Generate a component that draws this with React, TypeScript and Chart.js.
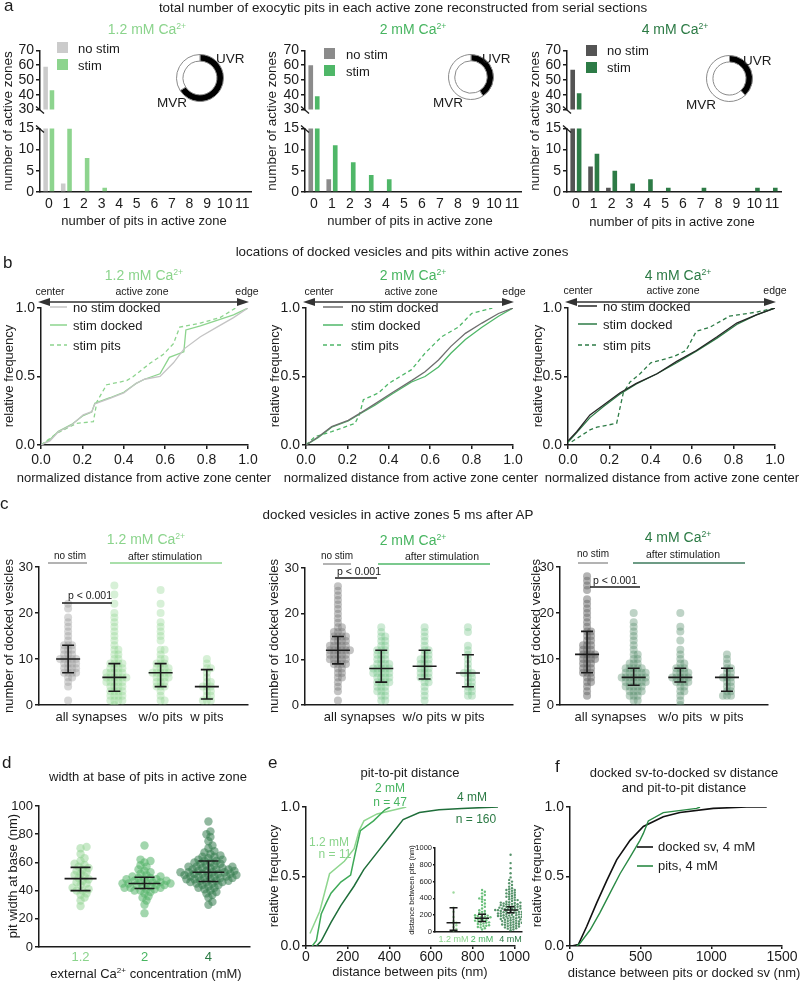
import React, { useEffect, useRef } from "react";
import { Chart, registerables } from "chart.js";

Chart.register(...registerables);

const FONT = '"Liberation Sans", Arial, Helvetica, sans-serif';
const INK = "#1b1b1b";
const G12 = "#8dd48e";
const G2 = "#4fb768";
const G4 = "#2d7b46";
const T12 = "#8bd48c";
const T2 = "#47b560";
const T4 = "#2b7a44";
const GR12 = "#cbcbcb";
const GR2 = "#8b8b8b";
const GR4 = "#545454";

// ================= DATA =================
// panel a: number of pits per active zone
const pitCounts = ["0", "1", "2", "3", "4", "5", "6", "7", "8", "9", "10", "11"];
const a12NoStim = [59, 2, 0, 0, 0, 0, 0, 0, 0, 0, 0, 0];
const a12Stim = [43, 15, 8, 1, 0, 0, 0, 0, 0, 0, 0, 0];
const a2NoStim = [60, 3, 0, 0, 0, 0, 0, 0, 0, 0, 0, 0];
const a2Stim = [39, 11, 7, 4, 3, 0, 0, 0, 0, 0, 0, 0];
const a4NoStim = [57, 6, 1, 0, 0, 0, 0, 0, 0, 0, 0, 0];
const a4Stim = [41, 9, 5, 2, 3, 1, 0, 1, 0, 0, 1, 1];
const uvrShare = [0.66, 0.41, 0.38];

// panel b: cumulative locations [normalized distance, relative frequency]
const b12NoStim = [[0, 0], [0.043, 0.03], [0.084, 0.097], [0.148, 0.146], [0.204, 0.22], [0.245, 0.243], [0.26, 0.3], [0.333, 0.34], [0.4, 0.38], [0.46, 0.45], [0.5, 0.48], [0.575, 0.5], [0.64, 0.6], [0.69, 0.7], [0.77, 0.79], [0.85, 0.86], [0.93, 0.93], [1, 1]];
const b12StimDocked = [[0, 0], [0.04, 0.035], [0.084, 0.1], [0.148, 0.15], [0.204, 0.215], [0.245, 0.24], [0.26, 0.305], [0.333, 0.345], [0.4, 0.385], [0.46, 0.45], [0.5, 0.48], [0.575, 0.52], [0.62, 0.64], [0.69, 0.68], [0.7, 0.84], [0.77, 0.87], [0.85, 0.91], [0.93, 0.95], [1, 1]];
const b12StimPits = [[0, 0], [0.076, 0.085], [0.172, 0.158], [0.253, 0.17], [0.27, 0.316], [0.317, 0.44], [0.414, 0.47], [0.446, 0.5], [0.53, 0.6], [0.59, 0.66], [0.64, 0.74], [0.67, 0.86], [0.77, 0.89], [0.865, 0.93], [0.94, 1.0]];
const b2NoStim = [[0, 0], [0.06, 0.06], [0.124, 0.134], [0.204, 0.18], [0.27, 0.24], [0.333, 0.3], [0.414, 0.38], [0.51, 0.47], [0.575, 0.535], [0.64, 0.62], [0.7, 0.72], [0.77, 0.815], [0.85, 0.89], [0.93, 0.96], [1, 1]];
const b2StimDocked = [[0, 0], [0.06, 0.055], [0.124, 0.13], [0.204, 0.175], [0.27, 0.235], [0.333, 0.29], [0.414, 0.37], [0.51, 0.46], [0.575, 0.5], [0.64, 0.57], [0.7, 0.67], [0.77, 0.77], [0.85, 0.86], [0.93, 0.94], [1, 1]];
const b2StimPits = [[0, 0], [0.043, 0.06], [0.124, 0.097], [0.237, 0.158], [0.26, 0.23], [0.277, 0.33], [0.35, 0.38], [0.4, 0.45], [0.51, 0.55], [0.575, 0.67], [0.655, 0.79], [0.736, 0.86], [0.8, 0.96], [0.9, 1.0]];
const b4NoStim = [[0, 0.03], [0.042, 0.097], [0.106, 0.22], [0.17, 0.29], [0.25, 0.38], [0.33, 0.45], [0.43, 0.52], [0.525, 0.61], [0.62, 0.69], [0.72, 0.79], [0.815, 0.89], [0.91, 0.95], [1, 1]];
const b4StimDocked = [[0, 0.02], [0.042, 0.09], [0.106, 0.2], [0.17, 0.28], [0.25, 0.37], [0.33, 0.445], [0.43, 0.52], [0.525, 0.6], [0.62, 0.685], [0.72, 0.78], [0.815, 0.88], [0.91, 0.95], [1, 1]];
const b4StimPits = [[0.018, 0.024], [0.106, 0.11], [0.14, 0.13], [0.235, 0.158], [0.267, 0.38], [0.3, 0.46], [0.348, 0.52], [0.4, 0.6], [0.51, 0.645], [0.57, 0.69], [0.62, 0.83], [0.686, 0.86], [0.78, 0.94], [0.91, 0.97], [1, 1]];

// panel c: docked vesicles per active zone
const cGroupLabels = ["all synapses", "w/o pits", "w pits"];
const c12NoStim = [1, 4, 5, 6, 6, 7, 7, 7, 7, 8, 8, 8, 8, 9, 9, 9, 9, 10, 10, 10, 10, 10, 11, 11, 11, 12, 12, 12, 13, 13, 13, 14, 15, 16, 17, 18, 19, 21, 22];
const c12All = [0, 1, 1, 1, 1, 2, 2, 2, 2, 3, 3, 3, 3, 4, 4, 4, 4, 5, 5, 5, 5, 5, 6, 6, 6, 6, 6, 6, 7, 7, 7, 7, 7, 8, 8, 8, 8, 9, 9, 9, 9, 10, 10, 11, 11, 12, 12, 13, 14, 15, 16, 17, 18, 19, 20, 22, 24, 26];
const c12WoPits = [1, 1, 2, 3, 4, 4, 4, 5, 5, 5, 6, 6, 6, 6, 7, 7, 7, 7, 7, 8, 8, 8, 8, 9, 9, 9, 10, 10, 11, 12, 12, 14, 15, 16, 17, 18, 20, 22, 25];
const c12WPits = [1, 1, 1, 2, 2, 3, 3, 4, 4, 4, 5, 5, 6, 7, 8, 8, 9, 10];
const c12Mid = [10, 6, 7, 4];
const c12Lo = [7, 3, 4, 1.3];
const c12Hi = [13, 9, 9, 7.7];
const c2NoStim = [1, 3, 4, 5, 6, 6, 7, 7, 8, 8, 9, 9, 9, 9, 10, 10, 10, 10, 10, 11, 11, 11, 11, 11, 12, 12, 12, 12, 12, 12, 13, 13, 13, 13, 13, 14, 14, 14, 14, 15, 15, 15, 15, 16, 16, 16, 17, 17, 18, 19, 20, 21, 22, 23, 24, 25, 26];
const c2All = [1, 1, 2, 2, 3, 3, 3, 4, 4, 4, 5, 5, 5, 5, 6, 6, 6, 6, 7, 7, 7, 7, 7, 8, 8, 8, 8, 8, 9, 9, 9, 9, 10, 10, 10, 11, 11, 11, 12, 12, 12, 13, 13, 14, 14, 15, 15, 16, 17];
const c2WoPits = [1, 2, 3, 4, 5, 5, 6, 6, 6, 7, 7, 7, 8, 8, 8, 9, 9, 9, 10, 10, 10, 11, 11, 12, 12, 13, 14, 15, 16, 17];
const c2WPits = [2, 2, 3, 3, 4, 4, 5, 5, 6, 6, 7, 7, 7, 8, 9, 10, 11, 12, 13, 16, 17];
const c2Mid = [12, 8, 8.5, 7];
const c2Lo = [9, 5, 5.7, 4];
const c2Hi = [15, 12, 12, 11];
const c4NoStim = [2, 3, 4, 5, 5, 6, 6, 7, 7, 7, 8, 8, 8, 9, 9, 9, 10, 10, 10, 10, 11, 11, 11, 11, 12, 12, 12, 13, 13, 13, 14, 14, 15, 15, 16, 16, 17, 18, 19, 20, 21, 22, 23, 25, 26, 27, 28];
const c4All = [1, 1, 2, 2, 2, 3, 3, 3, 3, 4, 4, 4, 4, 4, 5, 5, 5, 5, 5, 5, 6, 6, 6, 6, 6, 6, 6, 7, 7, 7, 7, 7, 7, 8, 8, 8, 8, 8, 9, 9, 9, 10, 10, 11, 11, 12, 13, 14, 15, 16, 17, 18, 20];
const c4WoPits = [0, 1, 2, 3, 3, 4, 4, 5, 5, 5, 5, 6, 6, 6, 6, 6, 7, 7, 7, 7, 8, 8, 8, 9, 9, 10, 11, 12, 14, 16, 17, 20];
const c4WPits = [2, 2, 2, 3, 3, 4, 4, 5, 5, 6, 6, 6, 7, 7, 8, 8, 9, 10, 11];
const c4Mid = [11, 6, 6, 6];
const c4Lo = [7, 4.3, 5, 3];
const c4Hi = [16, 8, 8, 8];

// panel d: pit width at base (nm)
const dConc = ["1.2", "2", "4"];
const pw12 = [29, 33, 35, 37, 38, 40, 40, 41, 42, 44, 45, 46, 47, 48, 49, 50, 51, 52, 53, 54, 55, 56, 57, 58, 59, 61, 63, 66, 70, 71];
const pw2 = [24, 30, 33, 35, 36, 38, 39, 40, 40, 41, 41, 42, 42, 42, 43, 43, 44, 44, 44, 45, 45, 45, 45, 46, 46, 46, 47, 47, 48, 48, 48, 49, 49, 50, 50, 51, 52, 53, 54, 55, 57, 58, 60, 61, 62, 72];
const pw4 = [30, 32, 35, 37, 38, 39, 40, 41, 42, 42, 43, 44, 44, 45, 45, 46, 46, 46, 47, 47, 47, 48, 48, 48, 49, 49, 49, 50, 50, 50, 50, 51, 51, 51, 52, 52, 52, 52, 53, 53, 53, 53, 54, 54, 54, 55, 55, 55, 56, 56, 56, 57, 57, 57, 58, 58, 59, 59, 60, 60, 61, 61, 62, 62, 63, 64, 64, 65, 66, 67, 68, 70, 72, 75, 78, 80, 82, 89];
const dMid = [48.5, 45, 53];
const dLo = [40, 41.5, 46.5];
const dHi = [56.5, 49.5, 61];

// panel e: pit-to-pit distance CDF [nm, relative frequency]
const e12 = [[19, 0.09], [66, 0.25], [113, 0.52], [184, 0.61], [231, 0.7], [255, 0.83], [278, 0.9], [341, 0.95], [481, 1.0]];
const e2 = [[30, 0], [50, 0.04], [73, 0.23], [97, 0.31], [120, 0.38], [167, 0.46], [214, 0.51], [238, 0.68], [261, 0.83], [324, 0.9], [379, 0.98], [403, 1.0]];
const e4 = [[50, 0], [73, 0.035], [120, 0.17], [167, 0.29], [230, 0.43], [277, 0.55], [340, 0.67], [403, 0.79], [466, 0.91], [544, 0.96], [638, 0.98], [748, 0.99], [921, 1.0]];
// inset e: distances (nm)
const insetLabels = ["1.2 mM", "2 mM", "4 mM"];
const in12 = [20, 35, 60, 80, 100, 110, 130, 180, 240, 290, 470];
const in2 = [30, 45, 55, 60, 70, 75, 80, 90, 95, 100, 110, 115, 120, 125, 130, 135, 140, 150, 155, 160, 165, 170, 175, 180, 185, 190, 195, 200, 210, 220, 230, 240, 250, 260, 280, 300, 320, 340, 360, 380, 390, 400, 420, 440, 460, 480, 500];
const in4 = [20, 30, 40, 45, 50, 55, 60, 65, 70, 75, 80, 85, 90, 90, 95, 100, 105, 110, 110, 115, 120, 125, 130, 130, 135, 140, 145, 150, 150, 155, 160, 165, 170, 170, 175, 180, 180, 185, 190, 190, 195, 200, 200, 205, 210, 210, 215, 220, 220, 225, 230, 230, 235, 240, 240, 245, 250, 250, 255, 260, 260, 262, 265, 270, 270, 275, 280, 280, 285, 290, 290, 295, 300, 300, 305, 310, 310, 315, 320, 320, 325, 330, 330, 335, 340, 345, 350, 350, 355, 360, 370, 380, 380, 390, 400, 410, 420, 420, 430, 440, 450, 460, 460, 470, 480, 490, 500, 500, 510, 520, 540, 560, 580, 600, 620, 650, 700, 760, 820, 920];
const inMid = [110, 165, 262];
const inLo = [20, 125, 230];
const inHi = [290, 210, 300];

// panel f: CDFs [nm, relative frequency]
const fDocked = [[12, 0], [59, 0.01], [118, 0.14], [189, 0.31], [260, 0.47], [330, 0.62], [425, 0.76], [519, 0.86], [660, 0.93], [778, 0.96], [1014, 0.99], [1250, 1.0], [1392, 1.0]];
const fPits = [[47, 0], [71, 0.02], [142, 0.115], [212, 0.24], [283, 0.38], [354, 0.52], [425, 0.64], [495, 0.76], [519, 0.81], [554, 0.9], [660, 0.96], [896, 0.99], [920, 1.0]];

// ================= HELPERS =================
type Box = { l: number; t: number; w: number; h: number };
type Area = { x0: number; y0: number; x1: number; y1: number };

function frame(box: Box, area: Area, xShown = true) {
  const xH = box.t + box.h - area.y1;
  return {
    area,
    padding: { left: 0, top: area.y0 - box.t, right: box.l + box.w - area.x1, bottom: xShown ? 0 : xH },
    fitX: (s: any) => { s.height = xH; },
    fitY: (s: any) => { s.width = area.x0 - box.l; },
  };
}

function base(f: any) {
  return {
    animation: false,
    responsive: false,
    events: [],
    layout: { padding: f.padding },
    plugins: { legend: { display: false }, tooltip: { enabled: false } },
  };
}

function linScale(o: any) {
  const tl = o.tickLen ?? 4;
  const s: any = {
    type: "linear",
    min: o.min,
    max: o.max,
    border: { display: true, color: INK, width: 1.5 },
    grid: { display: tl > 0, drawOnChartArea: false, drawTicks: tl > 0, tickLength: tl, color: INK, lineWidth: 1.5 },
    ticks: {
      font: { family: FONT, size: o.size ?? 14 },
      color: o.colors ? (ctx: any) => o.colors[ctx.index] ?? INK : INK,
      padding: o.pad ?? 2,
      autoSkip: false,
      maxRotation: 0,
    },
  };
  if (o.fit) s.afterFit = o.fit;
  if (o.step !== undefined) s.ticks.stepSize = o.step;
  if (o.at) s.afterBuildTicks = (sc: any) => { sc.ticks = o.at.map((v: number) => ({ value: v })); };
  if (o.labels) s.ticks.callback = (_v: any, i: number) => o.labels[i];
  else s.ticks.callback = (v: any) => (o.fmt ? o.fmt(Number(v)) : String(Number(v)));
  return s;
}

function swarm(values: number[], xc: number, pxX: number, pxY: number, dmin: number, step: number) {
  const placed: { x: number; y: number }[] = [];
  const pts: { x: number; y: number }[] = [];
  const sorted = [...values].sort((a, b) => a - b);
  sorted.forEach((v) => {
    const yp = v * pxY;
    let off = 0;
    for (let i = 0; i < 400; i++) {
      const cand = i === 0 ? 0 : (i % 2 ? 1 : -1) * Math.ceil(i / 2) * step;
      let ok = true;
      for (const p of placed) {
        const dy = p.y - yp;
        if (Math.abs(dy) < dmin) {
          const dx = p.x - cand;
          if (dx * dx + dy * dy < dmin * dmin) { ok = false; break; }
        }
      }
      if (ok) { off = cand; break; }
    }
    placed.push({ x: off, y: yp });
    pts.push({ x: xc + off / pxX, y: v });
  });
  return pts;
}

function errBars(xs: number[], mid: number[], lo: number[], hi: number[], half: number, whisk: number, lw = 1.6) {
  return {
    id: "errBars",
    afterDatasetsDraw(chart: any) {
      const { ctx, scales } = chart;
      const sx = scales.x, sy = scales.y;
      ctx.save();
      ctx.strokeStyle = INK;
      ctx.lineWidth = lw;
      ctx.beginPath();
      xs.forEach((xv, i) => {
        const cx = sx.getPixelForValue(xv);
        const ym = sy.getPixelForValue(mid[i]);
        const yl = sy.getPixelForValue(lo[i]);
        const yh = sy.getPixelForValue(hi[i]);
        ctx.moveTo(cx - half, ym); ctx.lineTo(cx + half, ym);
        ctx.moveTo(cx - whisk, yl); ctx.lineTo(cx + whisk, yl);
        ctx.moveTo(cx - whisk, yh); ctx.lineTo(cx + whisk, yh);
        ctx.moveTo(cx, yl); ctx.lineTo(cx, yh);
      });
      ctx.stroke();
      ctx.restore();
    },
  };
}

function breakPlugin(where: string) {
  return {
    id: "axisBreak",
    afterDraw(chart: any) {
      const { ctx, chartArea } = chart;
      const y = where === "bottom" ? chartArea.bottom : chartArea.top;
      const x = chartArea.left;
      ctx.save();
      ctx.strokeStyle = INK;
      ctx.lineWidth = 1.3;
      ctx.beginPath();
      ctx.moveTo(x - 4, y - 3);
      ctx.lineTo(x + 4, y + 4);
      ctx.stroke();
      ctx.restore();
    },
  };
}

const arrowPlugin = {
  id: "azArrow",
  afterDraw(chart: any) {
    const { ctx, chartArea } = chart;
    const y = chartArea.top - 6;
    const x0 = chartArea.left - 3;
    const x1 = chartArea.right + 1;
    ctx.save();
    ctx.strokeStyle = "#333";
    ctx.fillStyle = "#333";
    ctx.lineWidth = 1.6;
    ctx.beginPath();
    ctx.moveTo(x0 + 8, y);
    ctx.lineTo(x1 - 8, y);
    ctx.stroke();
    ctx.beginPath();
    ctx.moveTo(x0, y); ctx.lineTo(x0 + 12, y - 4); ctx.lineTo(x0 + 12, y + 4); ctx.closePath();
    ctx.moveTo(x1, y); ctx.lineTo(x1 - 12, y - 4); ctx.lineTo(x1 - 12, y + 4); ctx.closePath();
    ctx.fill();
    ctx.restore();
  },
};

function lineDs(pts: number[][], color: string, dashed = false, width = 1.3) {
  return {
    data: pts.map(([x, y]) => ({ x, y })),
    showLine: true,
    pointRadius: 0,
    borderColor: color,
    borderWidth: width,
    borderDash: dashed ? [4, 3] : [],
    tension: 0,
    fill: false,
  };
}

function dotDs(pts: any[], color: string, r: number) {
  return { data: pts, pointRadius: r, pointBackgroundColor: color, pointBorderWidth: 0, backgroundColor: color, borderWidth: 0, showLine: false };
}

// ================= SPECS =================
type Spec = { box: Box; make: () => any };
const SPECS: Spec[] = [];

// ---- panel a ----
const A_COLS = [
  { l: 0, x0: 40, x1: 251, noStim: a12NoStim, stim: a12Stim, cN: GR12, cS: G12 },
  { l: 265, x0: 305, x1: 521, noStim: a2NoStim, stim: a2Stim, cN: GR2, cS: G2 },
  { l: 527, x0: 567, x1: 781, noStim: a4NoStim, stim: a4Stim, cN: GR4, cS: G4 },
];
function barCfg(c: any, f: any, upper: boolean) {
  const ds = (label: string, data: number[], color: string) => ({
    label, data, backgroundColor: color, borderWidth: 0, categoryPercentage: 0.72, barPercentage: 0.72, clip: 0,
  });
  return {
    type: "bar",
    data: { labels: pitCounts, datasets: [ds("no stim", c.noStim, c.cN), ds("stim", c.stim, c.cS)] },
    options: {
      ...base(f),
      scales: {
        x: upper
          ? { display: false, offset: true }
          : {
              offset: true,
              grid: { display: false, drawTicks: false },
              border: { display: true, color: INK, width: 1.5 },
              ticks: { font: { family: FONT, size: 14 }, color: INK, padding: 4, autoSkip: false, maxRotation: 0 },
              afterFit: f.fitX,
            },
        y: linScale({ min: upper ? 30 : 0, max: upper ? 70 : 15, step: upper ? 10 : 5, fit: f.fitY }),
      },
    },
    plugins: [breakPlugin(upper ? "bottom" : "top")],
  };
}
A_COLS.forEach((c) => {
  const w = c.x1 + 14 - c.l;
  const up: Box = { l: c.l, t: 40, w, h: 80 };
  SPECS.push({ box: up, make: () => barCfg(c, frame(up, { x0: c.x0, y0: 50, x1: c.x1, y1: 114 }, false), true) });
  const lo: Box = { l: c.l, t: 118, w, h: 100 };
  SPECS.push({ box: lo, make: () => barCfg(c, frame(lo, { x0: c.x0, y0: 127, x1: c.x1, y1: 192 }), false) });
});

// donut icons (UVR share)
const DONUTS = [
  { cx: 200, cy: 78, r: 23, f: uvrShare[0] },
  { cx: 471, cy: 77, r: 22, f: uvrShare[1] },
  { cx: 729, cy: 78, r: 22.5, f: uvrShare[2] },
];
DONUTS.forEach((d) => {
  const s = Math.round(2 * d.r + 2);
  const box: Box = { l: Math.round(d.cx - s / 2), t: Math.round(d.cy - s / 2), w: s, h: s };
  SPECS.push({
    box,
    make: () => ({
      type: "doughnut",
      data: { labels: ["UVR", "MVR"], datasets: [{ data: [d.f, 1 - d.f], backgroundColor: ["#000", "#fff"], borderColor: "#8a8a8a", borderWidth: 1 }] },
      options: { animation: false, responsive: false, events: [], cutout: "72%", plugins: { legend: { display: false }, tooltip: { enabled: false } } },
    }),
  });
});

// ---- panel b ----
const B_COLS = [
  { l: 0, x0: 41, x1: 248, curves: [[b12NoStim, "#c4c4c4", false], [b12StimDocked, G12, false], [b12StimPits, G12, true]] },
  { l: 265, x0: 306, x1: 513, curves: [[b2NoStim, "#6e6e6e", false], [b2StimDocked, G2, false], [b2StimPits, G2, true]] },
  { l: 530, x0: 568, x1: 775, curves: [[b4NoStim, "#262626", false], [b4StimDocked, G4, false], [b4StimPits, G4, true]] },
];
B_COLS.forEach((c) => {
  const box: Box = { l: c.l, t: 285, w: 262, h: 185 };
  SPECS.push({
    box,
    make: () => {
      const f = frame(box, { x0: c.x0, y0: 308, x1: c.x1, y1: 445 });
      return {
        type: "scatter",
        data: { datasets: c.curves.map((cv: any) => lineDs(cv[0], cv[1], cv[2])) },
        options: {
          ...base(f),
          scales: {
            x: linScale({ min: 0, max: 1, step: 0.2, fmt: (v: number) => v.toFixed(1), pad: 3, fit: f.fitX }),
            y: linScale({ min: 0, max: 1, at: [0, 0.5, 1], fmt: (v: number) => v.toFixed(1), fit: f.fitY }),
          },
        },
        plugins: [arrowPlugin],
      };
    },
  });
});

// ---- panel c ----
const C_COLS = [
  { l: 0, x0: 39, x1: 248, y0: 567, xmin: -0.63, xmax: 3.89, groups: [c12NoStim, c12All, c12WoPits, c12WPits], cN: "rgba(160,160,160,0.42)", cS: "rgba(150,215,150,0.38)", mid: c12Mid, lo: c12Lo, hi: c12Hi },
  { l: 265, x0: 305, x1: 513, y0: 568, xmin: -0.76, xmax: 4.04, groups: [c2NoStim, c2All, c2WoPits, c2WPits], cN: "rgba(125,125,125,0.45)", cS: "rgba(125,200,145,0.38)", mid: c2Mid, lo: c2Lo, hi: c2Hi },
  { l: 527, x0: 560, x1: 768, y0: 567, xmin: -0.58, xmax: 3.88, groups: [c4NoStim, c4All, c4WoPits, c4WPits], cN: "rgba(105,105,105,0.5)", cS: "rgba(100,150,118,0.42)", mid: c4Mid, lo: c4Lo, hi: c4Hi },
];
C_COLS.forEach((c) => {
  const box: Box = { l: c.l, t: 545, w: 262, h: 190 };
  SPECS.push({
    box,
    make: () => {
      const area = { x0: c.x0, y0: c.y0, x1: c.x1, y1: 705 };
      const f = frame(box, area);
      const pxX = (area.x1 - area.x0) / (c.xmax - c.xmin);
      const pxY = (area.y1 - area.y0) / 30;
      const datasets = c.groups.map((g: number[], i: number) => dotDs(swarm(g, i, pxX, pxY, 4, 2), i === 0 ? c.cN : c.cS, 4));
      return {
        type: "scatter",
        data: { datasets },
        options: {
          ...base(f),
          scales: {
            x: linScale({ min: c.xmin, max: c.xmax, at: [0.5, 2, 3], labels: cGroupLabels, tickLen: 0, pad: 5, size: 13, fit: f.fitX }),
            y: linScale({ min: 0, max: 30, step: 10, size: 13, fit: f.fitY }),
          },
        },
        plugins: [errBars([0, 1, 2, 3], c.mid, c.lo, c.hi, 12, 6)],
      };
    },
  });
});

// ---- panel d ----
{
  const box: Box = { l: 0, t: 795, w: 262, h: 175 };
  SPECS.push({
    box,
    make: () => {
      const area = { x0: 39, y0: 806, x1: 250, y1: 947 };
      const f = frame(box, area);
      const xmin = -0.65, xmax = 2.65;
      const pxX = (area.x1 - area.x0) / (xmax - xmin);
      const pxY = (area.y1 - area.y0) / 100;
      const cols = ["rgba(145,212,145,0.5)", "rgba(85,180,105,0.55)", "rgba(55,125,80,0.55)"];
      const datasets = [pw12, pw2, pw4].map((g, i) => dotDs(swarm(g, i, pxX, pxY, 4.3, 2), cols[i], 4.2));
      return {
        type: "scatter",
        data: { datasets },
        options: {
          ...base(f),
          scales: {
            x: linScale({ min: xmin, max: xmax, at: [0, 1, 2], labels: dConc, colors: [T12, T2, T4], tickLen: 0, pad: 3, size: 13, fit: f.fitX }),
            y: linScale({ min: 0, max: 100, step: 20, size: 13, fit: f.fitY }),
          },
        },
        plugins: [errBars([0, 1, 2], dMid, dLo, dHi, 16, 10)],
      };
    },
  });
}

// ---- panel e ----
{
  const box: Box = { l: 265, t: 795, w: 265, h: 170 };
  SPECS.push({
    box,
    make: () => {
      const f = frame(box, { x0: 306, y0: 807, x1: 518, y1: 946 });
      return {
        type: "scatter",
        data: { datasets: [lineDs(e4, "#1f6e3a", false, 1.5), lineDs(e2, "#3faa58", false, 1.5), lineDs(e12, "#8fd68f", false, 1.5)] },
        options: {
          ...base(f),
          scales: {
            x: linScale({ min: 0, max: 1000, step: 200, tickLen: 3, pad: 0, fit: f.fitX }),
            y: linScale({ min: 0, max: 1, at: [0, 0.5, 1], fmt: (v: number) => v.toFixed(1), fit: f.fitY }),
          },
        },
      };
    },
  });
}
// inset
{
  const box: Box = { l: 398, t: 838, w: 128, h: 112 };
  SPECS.push({
    box,
    make: () => {
      const area = { x0: 435, y0: 848, x1: 522, y1: 932 };
      const f = frame(box, area);
      const xmin = -0.65, xmax = 2.4;
      const pxX = (area.x1 - area.x0) / (xmax - xmin);
      const pxY = (area.y1 - area.y0) / 1000;
      const cols = ["rgba(140,210,140,0.85)", "rgba(80,180,100,0.85)", "rgba(45,120,70,0.8)"];
      const datasets = [in12, in2, in4].map((g, i) => dotDs(swarm(g, i, pxX, pxY, 2.4, 1.4), cols[i], 1.2));
      return {
        type: "scatter",
        data: { datasets },
        options: {
          ...base(f),
          scales: {
            x: linScale({ min: xmin, max: xmax, at: [0, 1, 2], labels: insetLabels, colors: [T12, T2, T4], tickLen: 0, pad: 2, size: 9, fit: f.fitX }),
            y: linScale({ min: 0, max: 1000, step: 200, size: 7.5, tickLen: 2, pad: 1, fit: f.fitY }),
          },
        },
        plugins: [errBars([0, 1, 2], inMid, inLo, inHi, 7, 4, 1.5)],
      };
    },
  });
}

// ---- panel f ----
{
  const box: Box = { l: 530, t: 795, w: 268, h: 170 };
  SPECS.push({
    box,
    make: () => {
      const f = frame(box, { x0: 570, y0: 807, x1: 782, y1: 946 });
      return {
        type: "scatter",
        data: { datasets: [lineDs(fPits, "#2a8a45", false, 1.4), lineDs(fDocked, "#111", false, 1.6)] },
        options: {
          ...base(f),
          scales: {
            x: linScale({ min: 0, max: 1500, step: 500, tickLen: 3, pad: 0, fit: f.fitX }),
            y: linScale({ min: 0, max: 1, at: [0, 0.5, 1], fmt: (v: number) => v.toFixed(1), fit: f.fitY }),
          },
        },
      };
    },
  });
}

// ================= OVERLAY TEXT =================
const Txt = ({ x, y, s = 13, c = INK, rot = 0, a = "m", children }: any) => (
  <div
    style={{
      position: "absolute",
      left: x,
      top: y,
      fontSize: s,
      color: c,
      lineHeight: 1,
      whiteSpace: "nowrap",
      transform: `translate(${a === "m" ? "-50%" : a === "e" ? "-100%" : "0"}, -50%)${rot ? ` rotate(${rot}deg)` : ""}`,
    }}
  >
    {children}
  </div>
);
const Sup = ({ children }: any) => (
  <sup style={{ fontSize: "0.62em", verticalAlign: "0.6em", lineHeight: 0 }}>{children}</sup>
);
const Ca = ({ x, y, c, label }: any) => (
  <Txt x={x} y={y} s={14} c={c}>
    {label} mM Ca<Sup>2+</Sup>
  </Txt>
);

export default function App() {
  const refs = useRef<(HTMLCanvasElement | null)[]>([]);
  useEffect(() => {
    const charts = SPECS.map((s, i) => new Chart(refs.current[i] as HTMLCanvasElement, s.make()));
    return () => charts.forEach((ch) => ch.destroy());
  }, []);

  return (
    <div style={{ position: "absolute", left: 0, top: 0, width: 800, height: 985, overflow: "hidden", background: "#fff", fontFamily: FONT, color: INK }}>
      {SPECS.map((s, i) => (
        <canvas
          key={i}
          ref={(el) => { refs.current[i] = el; }}
          width={s.box.w}
          height={s.box.h}
          style={{ position: "absolute", left: s.box.l, top: s.box.t, width: s.box.w, height: s.box.h }}
        />
      ))}

      <svg width={800} height={985} style={{ position: "absolute", left: 0, top: 0, pointerEvents: "none" }}>
        {/* a legends */}
        <rect x={57} y={42} width={11} height={11} fill={GR12} />
        <rect x={57} y={59} width={11} height={11} fill={G12} />
        <rect x={324} y={48} width={11} height={11} fill={GR2} />
        <rect x={324} y={65} width={11} height={11} fill={G2} />
        <rect x={586} y={45} width={11} height={11} fill={GR4} />
        <rect x={586} y={62} width={11} height={11} fill={G4} />
        {/* b legends */}
        <line x1={50} x2={67} y1={307} y2={307} stroke="#c4c4c4" strokeWidth={1.5} />
        <line x1={50} x2={67} y1={325} y2={325} stroke={G12} strokeWidth={1.5} />
        <line x1={50} x2={67} y1={345} y2={345} stroke={G12} strokeWidth={1.5} strokeDasharray="4 3" />
        <line x1={323} x2={343} y1={307} y2={307} stroke="#6e6e6e" strokeWidth={1.5} />
        <line x1={323} x2={343} y1={325} y2={325} stroke={G2} strokeWidth={1.5} />
        <line x1={323} x2={343} y1={345} y2={345} stroke={G2} strokeWidth={1.5} strokeDasharray="4 3" />
        <line x1={578} x2={597} y1={306} y2={306} stroke="#262626" strokeWidth={1.5} />
        <line x1={578} x2={597} y1={324} y2={324} stroke={G4} strokeWidth={1.5} />
        <line x1={578} x2={597} y1={345} y2={345} stroke={G4} strokeWidth={1.5} strokeDasharray="4 3" />
        {/* c annotations */}
        <line x1={48} x2={87} y1={563} y2={563} stroke="#9a9a9a" strokeWidth={1.5} />
        <line x1={110} x2={222} y1={563} y2={563} stroke={G12} strokeWidth={1.5} />
        <line x1={62} x2={112} y1={603} y2={603} stroke={INK} strokeWidth={1.5} />
        <line x1={323} x2={351} y1={564} y2={564} stroke="#9a9a9a" strokeWidth={1.5} />
        <line x1={378} x2={490} y1={564} y2={564} stroke={G2} strokeWidth={1.5} />
        <line x1={335} x2={377} y1={578} y2={578} stroke={INK} strokeWidth={1.5} />
        <line x1={578} x2={608} y1={563} y2={563} stroke="#9a9a9a" strokeWidth={1.5} />
        <line x1={633} x2={745} y1={563} y2={563} stroke="#3d7a5c" strokeWidth={1.5} />
        <line x1={590} x2={640} y1={587} y2={587} stroke={INK} strokeWidth={1.5} />
        {/* f legend */}
        <line x1={637} x2={653} y1={847} y2={847} stroke="#111" strokeWidth={1.6} />
        <line x1={637} x2={653} y1={866} y2={866} stroke="#2a8a45" strokeWidth={1.6} />
      </svg>

      {/* section titles and letters */}
      <Txt x={4} y={5} s={17} a="s">a</Txt>
      <Txt x={403} y={8} s={13.4}>total number of exocytic pits in each active zone reconstructed from serial sections</Txt>
      <Txt x={3} y={262} s={17} a="s">b</Txt>
      <Txt x={402} y={252} s={13.4}>locations of docked vesicles and pits within active zones</Txt>
      <Txt x={0} y={503} s={17} a="s">c</Txt>
      <Txt x={398} y={515} s={13.4}>docked vesicles in active zones 5 ms after AP</Txt>
      <Txt x={2} y={762} s={17} a="s">d</Txt>
      <Txt x={268} y={762} s={17} a="s">e</Txt>
      <Txt x={555} y={766} s={17} a="s">f</Txt>

      {/* Ca subtitles */}
      <Ca x={147} y={29} c={T12} label="1.2" />
      <Ca x={413} y={29} c={T2} label="2" />
      <Ca x={675} y={29} c={T4} label="4" />
      <Ca x={144} y={275} c={T12} label="1.2" />
      <Ca x={413} y={275} c={T2} label="2" />
      <Ca x={678} y={275} c={T4} label="4" />
      <Ca x={146} y={539} c={T12} label="1.2" />
      <Ca x={413} y={540} c={T2} label="2" />
      <Ca x={678} y={537} c={T4} label="4" />

      {/* panel a texts */}
      <Txt x={8} y={121} s={13.5} rot={-90}>number of active zones</Txt>
      <Txt x={272} y={121} s={13.5} rot={-90}>number of active zones</Txt>
      <Txt x={535} y={121} s={13.5} rot={-90}>number of active zones</Txt>
      <Txt x={144} y={220} s={13}>number of pits in active zone</Txt>
      <Txt x={410} y={220} s={13}>number of pits in active zone</Txt>
      <Txt x={672} y={221} s={13}>number of pits in active zone</Txt>
      <Txt x={78} y={48} s={13} a="s">no stim</Txt>
      <Txt x={78} y={65} s={13} a="s">stim</Txt>
      <Txt x={346} y={54} s={13} a="s">no stim</Txt>
      <Txt x={346} y={71} s={13} a="s">stim</Txt>
      <Txt x={607} y={50} s={13} a="s">no stim</Txt>
      <Txt x={607} y={67} s={13} a="s">stim</Txt>
      <Txt x={216} y={59} s={13.5} a="s">UVR</Txt>
      <Txt x={157} y={103} s={13.5} a="s">MVR</Txt>
      <Txt x={482} y={59} s={13.5} a="s">UVR</Txt>
      <Txt x={433} y={103} s={13.5} a="s">MVR</Txt>
      <Txt x={743} y={61} s={13.5} a="s">UVR</Txt>
      <Txt x={686} y={105} s={13.5} a="s">MVR</Txt>

      {/* panel b texts */}
      <Txt x={50} y={291} s={10.5}>center</Txt>
      <Txt x={142} y={291} s={10.5}>active zone</Txt>
      <Txt x={247} y={291} s={10.5}>edge</Txt>
      <Txt x={319} y={291} s={10.5}>center</Txt>
      <Txt x={411} y={291} s={10.5}>active zone</Txt>
      <Txt x={514} y={291} s={10.5}>edge</Txt>
      <Txt x={578} y={290} s={10.5}>center</Txt>
      <Txt x={673} y={290} s={10.5}>active zone</Txt>
      <Txt x={775} y={290} s={10.5}>edge</Txt>
      <Txt x={73} y={307} s={13} a="s">no stim docked</Txt>
      <Txt x={73} y={325} s={13} a="s">stim docked</Txt>
      <Txt x={73} y={345} s={13} a="s">stim pits</Txt>
      <Txt x={351} y={307} s={13} a="s">no stim docked</Txt>
      <Txt x={351} y={325} s={13} a="s">stim docked</Txt>
      <Txt x={351} y={345} s={13} a="s">stim pits</Txt>
      <Txt x={603} y={306} s={13} a="s">no stim docked</Txt>
      <Txt x={603} y={324} s={13} a="s">stim docked</Txt>
      <Txt x={603} y={345} s={13} a="s">stim pits</Txt>
      <Txt x={8} y={376} s={13} rot={-90}>relative frequency</Txt>
      <Txt x={274} y={376} s={13} rot={-90}>relative frequency</Txt>
      <Txt x={537} y={376} s={13} rot={-90}>relative frequency</Txt>
      <Txt x={144} y={477} s={13}>normalized distance from active zone center</Txt>
      <Txt x={411} y={477} s={13}>normalized distance from active zone center</Txt>
      <Txt x={672} y={477} s={13}>normalized distance from active zone center</Txt>

      {/* panel c texts */}
      <Txt x={70} y={556} s={10}>no stim</Txt>
      <Txt x={165} y={556} s={10.5}>after stimulation</Txt>
      <Txt x={90} y={595} s={10.5}>p &lt; 0.001</Txt>
      <Txt x={337} y={556} s={10}>no stim</Txt>
      <Txt x={442} y={556} s={10.5}>after stimulation</Txt>
      <Txt x={359} y={571} s={10.5}>p &lt; 0.001</Txt>
      <Txt x={593} y={554} s={10}>no stim</Txt>
      <Txt x={683} y={554} s={10.5}>after stimulation</Txt>
      <Txt x={615} y={580} s={10.5}>p &lt; 0.001</Txt>
      <Txt x={8} y={636} s={13} rot={-90}>number of docked vesicles</Txt>
      <Txt x={273} y={636} s={13} rot={-90}>number of docked vesicles</Txt>
      <Txt x={535} y={636} s={13} rot={-90}>number of docked vesicles</Txt>

      {/* panel d texts */}
      <Txt x={148} y={776} s={13}>width at base of pits in active zone</Txt>
      <Txt x={12} y={876} s={13} rot={-90}>pit width at base (nm)</Txt>
      <Txt x={146} y={973} s={13}>
        external Ca<Sup>2+</Sup> concentration (mM)
      </Txt>

      {/* panel e texts */}
      <Txt x={410} y={772} s={13}>pit-to-pit distance</Txt>
      <Txt x={273} y={876} s={13} rot={-90}>relative frequency</Txt>
      <Txt x={410} y={971} s={13}>distance between pits (nm)</Txt>
      <Txt x={412} y={890} s={7.5} rot={-90}>distance between pits (nm)</Txt>
      <Txt x={329} y={842} s={12} c={T12}>1.2 mM</Txt>
      <Txt x={335} y={854} s={12} c={T12}>n = 11</Txt>
      <Txt x={390} y={788} s={12} c={T2}>2 mM</Txt>
      <Txt x={390} y={802} s={12} c={T2}>n = 47</Txt>
      <Txt x={472} y={797} s={12} c={T4}>4 mM</Txt>
      <Txt x={476} y={819} s={12} c={T4}>n = 160</Txt>

      {/* panel f texts */}
      <Txt x={684} y={772} s={13}>docked sv-to-docked sv distance</Txt>
      <Txt x={684} y={787} s={13}>and pit-to-pit distance</Txt>
      <Txt x={536} y={876} s={13} rot={-90}>relative frequency</Txt>
      <Txt x={684} y={972} s={13}>distance between pits or docked sv (nm)</Txt>
      <Txt x={658} y={846} s={13} a="s">docked sv, 4 mM</Txt>
      <Txt x={658} y={865} s={13} a="s">pits, 4 mM</Txt>
    </div>
  );
}
